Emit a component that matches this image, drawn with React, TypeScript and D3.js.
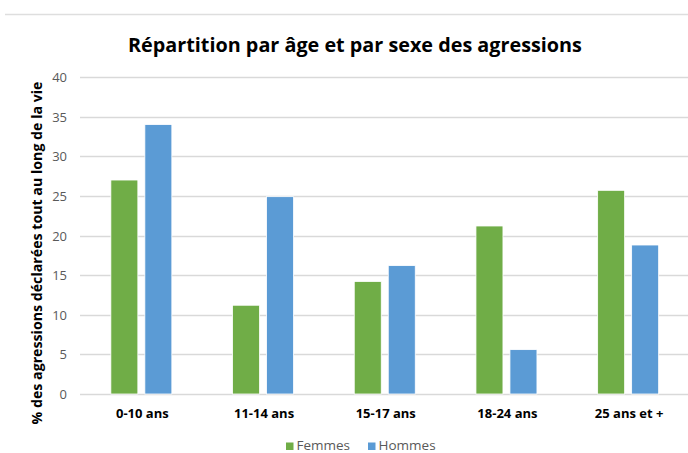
import React, { useEffect, useRef } from 'react'
import * as d3 from 'd3'

const categories = ['0-10 ans', '11-14 ans', '15-17 ans', '18-24 ans', '25 ans et +']
const femmes = [27, 11.2, 14.2, 21.2, 25.7]
const hommes = [34, 24.9, 16.2, 5.6, 18.8]
const seriesNames = ['Femmes', 'Hommes']
const colors = ['#70AD47', '#5B9BD5']
const yTicks = [0, 5, 10, 15, 20, 25, 30, 35, 40]

const W = 688, H = 453
const FONT = '"Open Sans", sans-serif'

export default function App() {
  const ref = useRef<SVGSVGElement>(null)

  useEffect(() => {
    const svg = d3.select(ref.current)
    svg.selectAll('*').remove()

    // framing line at the top
    svg.append('line')
      .attr('x1', 5).attr('x2', W).attr('y1', 14.5).attr('y2', 14.5)
      .style('stroke', '#dedede').style('stroke-width', 1.5)

    svg.append('text')
      .attr('x', 355).attr('y', 52)
      .attr('text-anchor', 'middle')
      .style('font-family', FONT).style('font-weight', 'bold').style('font-size', '19.8px')
      .style('fill', '#000')
      .text('Répartition par âge et par sexe des agressions')

    const x = d3.scaleBand().domain(categories).range([80.5, 689])
    const y = d3.scaleLinear().domain([0, 40]).range([394, 77])

    // gridlines
    svg.append('g').selectAll('line')
      .data(yTicks)
      .enter().append('line')
        .attr('x1', 80).attr('x2', W)
        .attr('y1', d => Math.round(y(d)) + 0.5).attr('y2', d => Math.round(y(d)) + 0.5)
        .style('stroke', '#d9d9d9').style('stroke-width', 1.3)

    // y tick labels
    svg.append('g').selectAll('text')
      .data(yTicks)
      .enter().append('text')
        .attr('x', 67).attr('y', d => y(d) + 5)
        .attr('text-anchor', 'end')
        .style('font-family', FONT).style('font-size', '13px').style('fill', '#595959')
        .text(d => d)

    const barW = 27, gap = 7
    const series = [femmes, hommes]
    series.forEach((vals, si) => {
      svg.append('g').selectAll('rect')
        .data(vals)
        .enter().append('rect')
          .attr('x', (d, i) => x(categories[i])! + x.bandwidth() / 2 - barW - gap / 2 + si * (barW + gap))
          .attr('y', d => y(d))
          .attr('width', barW)
          .attr('height', d => y(0) - y(d))
          .style('fill', colors[si])
          .style('stroke', '#ffffff').style('stroke-width', 0.8)
    })

    // category labels
    svg.append('g').selectAll('text')
      .data(categories)
      .enter().append('text')
        .attr('x', d => x(d)! + x.bandwidth() / 2 + 1)
        .attr('y', 418)
        .attr('text-anchor', 'middle')
        .style('font-family', FONT).style('font-weight', 'bold').style('font-size', '13px')
        .style('fill', '#000')
        .text(d => d)

    // y axis title
    svg.append('text')
      .attr('transform', 'translate(42,253) rotate(-90)')
      .attr('text-anchor', 'middle')
      .style('font-family', FONT).style('font-weight', 'bold').style('font-size', '14.2px')
      .style('fill', '#000')
      .text('% des agressions déclarées tout au long de la vie')

    // legend
    const legX = [286, 368]
    seriesNames.forEach((name, i) => {
      svg.append('rect')
        .attr('x', legX[i]).attr('y', 442.5).attr('width', 7.5).attr('height', 7.5)
        .style('fill', colors[i])
      svg.append('text')
        .attr('x', legX[i] + 10.5).attr('y', 450)
        .style('font-family', FONT).style('font-size', '13.5px').style('fill', '#595959')
        .text(name)
    })
  }, [])

  return (
    <svg ref={ref} width={W} height={H}
      style={{ position: 'absolute', left: 0, top: 0, background: '#fff' }} />
  )
}
